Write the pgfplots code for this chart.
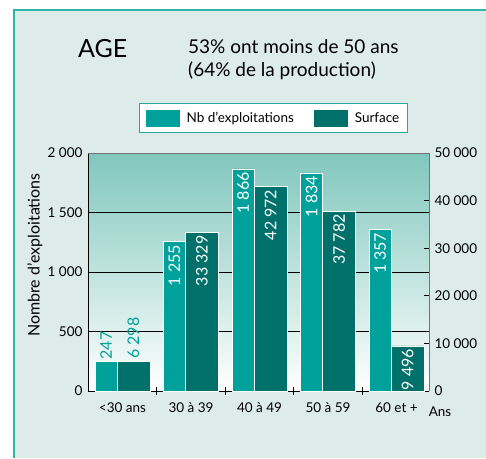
\documentclass[border=0pt]{standalone}
\usepackage{pgfplots}
\pgfplotsset{compat=1.18}
\usepackage{fontspec}
\setmainfont{Lato}
\definecolor{panelbg}{HTML}{DDEBE9}
\definecolor{panelborder}{HTML}{2DB5AA}
\definecolor{gradtop}{HTML}{80C7BD}
\definecolor{nbcol}{HTML}{00A19A}
\definecolor{surfcol}{HTML}{00716A}
\definecolor{legborder}{HTML}{2AA79D}
\pgfplotsset{
  common/.style={
    at={(88pt,67pt)}, anchor=south west,
    scale only axis, width=341pt, height=238pt,
    xmin=-0.5036, xmax=4.474,
    /pgf/number format/assume math mode=true,
    /pgf/number format/1000 sep={\ },
    tick label style={font=\fontsize{13.5}{15}\selectfont},
  },
  valin/.style={nodes near coords, every node near coord/.append style={xshift=#1, rotate=90, anchor=east, text=white, font=\fontsize{16}{18}\selectfont, inner sep=3pt}},
  valout/.style={nodes near coords, every node near coord/.append style={xshift=#1, rotate=90, anchor=west, text=nbcol, font=\fontsize{16}{18}\selectfont, inner sep=2pt}},
}
\begin{document}
\begin{tikzpicture}[x=1pt,y=1pt]
\useasboundingbox (0,0) rectangle (486,458);
\fill[white] (0,0) rectangle (486,458);
\fill[panelbg] (14,0) rectangle (486,448);
\draw[panelborder, line width=2pt] (14,0) -- (14,448) -- (486,448);

\node[anchor=base west, inner sep=0, font=\fontsize{25}{28}\selectfont] at (78,400) {AGE};
\node[anchor=base west, inner sep=0, font=\fontsize{19}{22}\selectfont] at (188,404) {53\% ont moins de 50 ans};
\node[anchor=base west, inner sep=0, font=\fontsize{19}{22}\selectfont] at (188,381) {(64\% de la production)};

\begin{axis}[common,
  ymin=0, ymax=2000,
  axis x line*=bottom, axis y line*=left,
  axis line style={-, black, line width=0.7pt},
  axis background/.style={top color=gradtop, bottom color=white},
  ytick={0,500,1000,1500,2000},
  ymajorgrids, major grid style={black, line width=0.7pt},
  xtick={0,1,2,3,4},
  xticklabels={{<30 ans},{30 à 39},{40 à 49},{50 à 59},{60 et +}},
  minor xtick={0.5,1.5,2.5,3.5},
  major tick length=0pt, minor tick length=8pt, tick align=center,
  minor tick style={black, line width=0.7pt},
  xticklabel style={yshift=-8pt},
  yticklabel style={xshift=-2pt},
  legend style={at={(0.544,1.147)}, anchor=center, draw=legborder, line width=0.8pt,
    fill=white, font=\fontsize{13.5}{15}\selectfont, inner xsep=6pt, inner ysep=6pt,
    /tikz/every odd column/.append style={column sep=5pt},
    /tikz/every even column/.append style={column sep=18pt}},
  legend columns=2,
]
\addlegendimage{legend image code/.code={\fill[nbcol] (0pt,-8pt) rectangle (33pt,8pt);}}
\addlegendentry{Nb d’exploitations}
\addlegendimage{legend image code/.code={\fill[surfcol] (0pt,-8pt) rectangle (33pt,8pt);}}
\addlegendentry{Surface}
\addplot[ybar, forget plot, bar width=22pt, bar shift=-16.5pt, fill=nbcol, draw=white, line width=0.5pt, valout=-16.5pt]
  coordinates {(0,247)};
\addplot[ybar, forget plot, bar width=22pt, bar shift=-16.5pt, fill=nbcol, draw=white, line width=0.5pt, valin=-16.5pt]
  coordinates {(1,1255) (2,1866) (3,1834) (4,1357)};
\end{axis}

\begin{axis}[common,
  ymin=0, ymax=50000,
  axis x line*=top, axis y line*=right,
  axis line style={-, black!55, line width=0.7pt},
  xtick=\empty,
  ytick={0,10000,20000,30000,40000,50000},
  scaled y ticks=false,
  major tick length=5pt, tick align=inside,
  major tick style={black, line width=0.7pt},
  yticklabel style={xshift=2pt},
]
\addplot[ybar, bar width=33pt, bar shift=11pt, fill=surfcol, draw=white, line width=0.5pt, valout=11pt]
  coordinates {(0,6298)};
\addplot[ybar, bar width=33pt, bar shift=11pt, fill=surfcol, draw=white, line width=0.5pt, valin=11pt]
  coordinates {(1,33329) (2,42972) (3,37782) (4,9496)};
\end{axis}

\node[rotate=90, font=\fontsize{16}{18}\selectfont] at (35,203) {Nombre d’exploitations};
\node[font=\fontsize{13.5}{15}\selectfont] at (440,46) {Ans};
\end{tikzpicture}
\end{document}
